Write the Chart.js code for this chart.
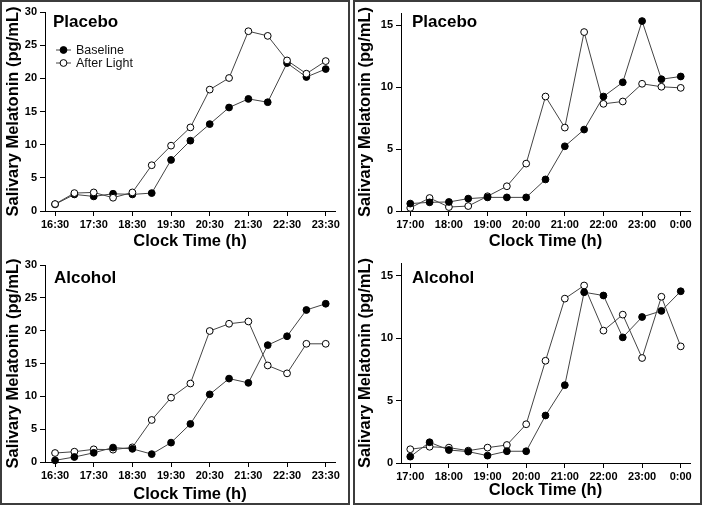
<!DOCTYPE html>
<html><head><meta charset="utf-8">
<script src="https://cdn.jsdelivr.net/npm/chart.js@4"></script>
<style>
html,body{margin:0;padding:0;background:#fff;width:704px;height:506px;overflow:hidden}
.box{position:absolute;border:2px solid #3c3c3c;box-sizing:border-box}
.cv{position:absolute}
canvas{display:block}
</style></head><body>
<div class="box" style="left:0;top:0;width:350px;height:505px"></div>
<div class="box" style="left:353px;top:0;width:349px;height:505px"></div>
<div class="cv" style="left:0;top:0"><canvas id="c1" width="350" height="250"></canvas></div>
<div class="cv" style="left:0;top:250px"><canvas id="c2" width="350" height="256"></canvas></div>
<div class="cv" style="left:352px;top:0"><canvas id="c3" width="352" height="250"></canvas></div>
<div class="cv" style="left:352px;top:250px"><canvas id="c4" width="352" height="256"></canvas></div>
<script>
// ---- data ----
const leftTimes = [16.5,17,17.5,18,18.5,19,19.5,20,20.5,21,21.5,22,22.5,23,23.5];
const rightTimes = [17,17.5,18,18.5,19,19.5,20,20.5,21,21.5,22,22.5,23,23.5,24];
const leftTickValues = [16.5,17.5,18.5,19.5,20.5,21.5,22.5,23.5];
const leftTickLabels = ['16:30','17:30','18:30','19:30','20:30','21:30','22:30','23:30'];
const rightTickValues = [17,18,19,20,21,22,23,24];
const rightTickLabels = ['17:00','18:00','19:00','20:00','21:00','22:00','23:00','0:00'];
const leftYTicks = [0,5,10,15,20,25,30];
const rightYTicks = [0,5,10,15];
const seriesNames = ['Baseline','After Light'];

const placeboLeftBaseline = [1.0,2.5,2.2,2.6,2.5,2.7,7.7,10.6,13.1,15.6,16.9,16.4,22.3,20.2,21.4];
const placeboLeftLight    = [1.05,2.7,2.8,2.0,2.8,6.9,9.85,12.6,18.3,20.05,27.1,26.4,22.7,20.7,22.6];
const alcoholLeftBaseline = [0.25,0.76,1.4,2.2,2.0,1.2,2.95,5.8,10.3,12.7,12.05,17.8,19.15,23.15,24.1];
const alcoholLeftLight    = [1.37,1.57,1.93,1.88,2.23,6.4,9.8,11.95,19.95,21.05,21.4,14.7,13.5,18.0,18.0];
const placeboRightBaseline = [0.6,0.7,0.73,1.0,1.1,1.1,1.1,2.55,5.23,6.58,9.25,10.4,15.35,10.65,10.87];
const placeboRightLight    = [0.25,1.05,0.32,0.4,1.19,2.0,3.83,9.25,6.74,14.46,8.66,8.85,10.28,10.04,9.95];
const alcoholRightBaseline = [0.51,1.66,1.04,0.91,0.59,0.94,0.94,3.8,6.23,13.66,13.4,10.05,11.68,12.17,13.74];
const alcoholRightLight    = [1.1,1.3,1.23,0.99,1.23,1.44,3.1,8.18,13.15,14.2,10.59,11.87,8.4,13.3,9.33];

// ---- drawing ----
const FONT = '"Liberation Sans", Arial, Helvetica, sans-serif';
const LINE = '#444';
const PR = 3.4;

const panelLabel = {
  id: 'panelLabel',
  afterDraw(chart, args, o) {
    const ctx = chart.ctx;
    ctx.save();
    ctx.fillStyle = '#000';
    ctx.font = 'bold 17px ' + FONT;
    ctx.textBaseline = 'alphabetic';
    ctx.textAlign = 'left';
    ctx.fillText(o.text, o.x, o.y);
    if (o.legend) {
      chart.data.datasets.forEach((ds, i) => {
        const y = o.ly + i * o.lstep;
        ctx.strokeStyle = LINE; ctx.lineWidth = 1;
        ctx.beginPath(); ctx.moveTo(o.lx, y); ctx.lineTo(o.lx + 15, y); ctx.stroke();
        ctx.beginPath(); ctx.arc(o.lx + 7.5, y, PR, 0, Math.PI * 2);
        ctx.fillStyle = ds.pointBackgroundColor; ctx.fill();
        ctx.strokeStyle = '#000'; ctx.stroke();
        ctx.fillStyle = '#111';
        ctx.font = '12.5px ' + FONT;
        ctx.textBaseline = 'middle';
        ctx.fillText(ds.label, o.lx + 20, y + 0.5);
      });
    }
    ctx.restore();
  }
};

function makePanel(id, times, base, light, xTicks, xLabels, xmin, xmax, yTicks, ymax, lay, lab, lightOnTop) {
  const toPts = arr => arr.map((v, i) => ({x: times[i], y: v}));
  new Chart(document.getElementById(id), {
    type: 'line',
    data: {
      datasets: [
        {label: seriesNames[0], data: toPts(base), borderColor: LINE, borderWidth: 1, order: lightOnTop ? 2 : 1,
         pointBackgroundColor: '#000', pointBorderColor: '#000', pointBorderWidth: 1, pointRadius: PR, tension: 0},
        {label: seriesNames[1], data: toPts(light), borderColor: LINE, borderWidth: 1, order: lightOnTop ? 1 : 2,
         pointBackgroundColor: '#fff', pointBorderColor: '#000', pointBorderWidth: 1, pointRadius: PR, tension: 0}
      ]
    },
    options: {
      responsive: false, animation: false, clip: false,
      layout: {padding: {top: lay.top, right: lay.right, bottom: 0, left: 0}},
      plugins: {legend: {display: false}, tooltip: {enabled: false}, panelLabel: lab},
      scales: {
        x: {
          type: 'linear', min: xmin, max: xmax,
          afterBuildTicks: s => { s.ticks = xTicks.map(v => ({value: v})); },
          afterFit: s => { s.height = lay.xh; },
          ticks: {autoSkip: false, maxRotation: 0, padding: 2, color: '#000',
                  font: {family: FONT, size: 11, weight: 'bold'},
                  callback: v => xLabels[xTicks.indexOf(v)]},
          grid: {display: true, drawOnChartArea: false, drawTicks: true, tickLength: 5, color: '#000'},
          border: {display: true, color: '#000', width: 1},
          title: {display: true, text: 'Clock Time (h)', color: '#000',
                  font: {family: FONT, size: 16.5, weight: 'bold', lineHeight: 1},
                  padding: {top: 0, bottom: lay.tb}}
        },
        y: {
          min: 0, max: ymax,
          afterBuildTicks: s => { s.ticks = yTicks.map(v => ({value: v})); },
          afterFit: s => { s.width = lay.yw; },
          ticks: {padding: 3, color: '#000', font: {family: FONT, size: 11, weight: 'bold'}},
          grid: {display: true, drawOnChartArea: false, drawTicks: true, tickLength: 5, color: '#000'},
          border: {display: true, color: '#000', width: 1},
          title: {display: true, text: 'Salivary Melatonin (pg/mL)', color: '#000',
                  font: {family: FONT, size: 16.5, weight: 'bold', lineHeight: 1},
                  padding: {top: 5, bottom: 0}}
        }
      }
    },
    plugins: [panelLabel]
  });
}

makePanel('c1', leftTimes, placeboLeftBaseline, placeboLeftLight, leftTickValues, leftTickLabels,
  16.24, 23.74, leftYTicks, 30, {top: 12, right: 15, xh: 39, yw: 45, tb: 0},
  {text: 'Placebo', x: 53, y: 27, legend: true, lx: 56, ly: 50, lstep: 13}, true);
makePanel('c2', leftTimes, alcoholLeftBaseline, alcoholLeftLight, leftTickValues, leftTickLabels,
  16.24, 23.74, leftYTicks, 30, {top: 15, right: 15, xh: 44, yw: 45, tb: 3.5},
  {text: 'Alcohol', x: 54, y: 33, legend: false}, false);
makePanel('c3', rightTimes, placeboRightBaseline, placeboRightLight, rightTickValues, rightTickLabels,
  16.76, 24.24, rightYTicks, 16, {top: 13, right: 14, xh: 39, yw: 49, tb: 0},
  {text: 'Placebo', x: 60, y: 27, legend: false}, false);
makePanel('c4', rightTimes, alcoholRightBaseline, alcoholRightLight, rightTickValues, rightTickLabels,
  16.76, 24.24, rightYTicks, 16, {top: 13, right: 14, xh: 43, yw: 49, tb: 7},
  {text: 'Alcohol', x: 60, y: 33, legend: false}, false);
</script>
</body></html>
